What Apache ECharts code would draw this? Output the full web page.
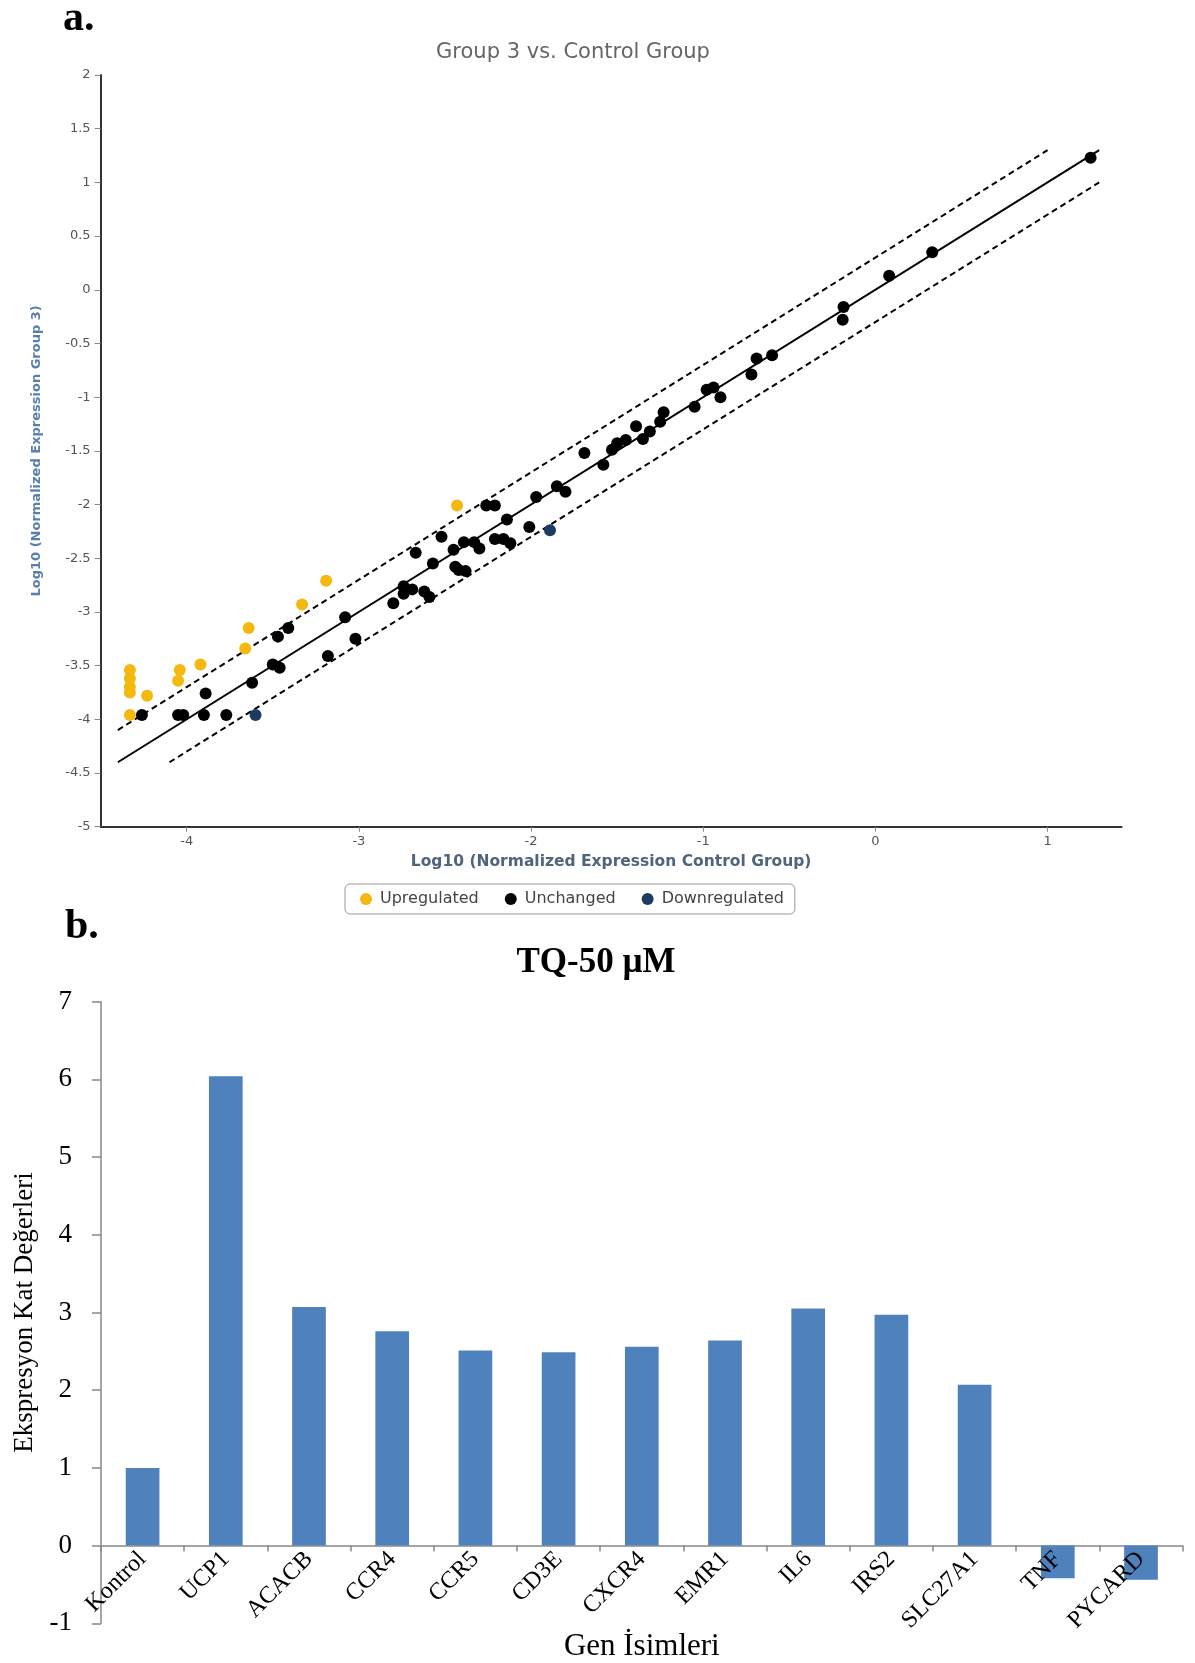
<!DOCTYPE html>
<html>
<head>
<meta charset="utf-8">
<script src="https://cdn.jsdelivr.net/npm/echarts@6/dist/echarts.min.js"></script>
<style>
html,body{margin:0;padding:0;background:#fff;}
#chart{width:1195px;height:1663px;}
</style>
</head>
<body>
<div id="chart"></div>
<script>
// ---------- Panel a: scatter data (log10 control, log10 group 3) ----------
const upregulated = [
  [-4.33,-3.54],[-4.33,-3.62],[-4.33,-3.70],[-4.33,-3.75],[-4.33,-3.96],
  [-4.23,-3.78],[-4.04,-3.54],[-4.05,-3.64],[-3.92,-3.49],[-3.66,-3.34],
  [-3.64,-3.15],[-3.33,-2.93],[-3.19,-2.71],[-2.43,-2.01]
];
const unchanged = [
  [-4.26,-3.96],[-4.05,-3.96],[-4.02,-3.96],[-3.90,-3.96],[-3.77,-3.96],
  [-3.89,-3.76],[-3.62,-3.66],[-3.50,-3.49],[-3.46,-3.52],[-3.47,-3.23],
  [-3.41,-3.15],[-3.18,-3.41],[-3.08,-3.05],[-3.02,-3.25],[-2.80,-2.92],
  [-2.74,-2.76],[-2.69,-2.79],[-2.74,-2.83],[-2.62,-2.81],[-2.59,-2.86],
  [-2.67,-2.45],[-2.57,-2.55],[-2.52,-2.30],[-2.45,-2.42],[-2.39,-2.35],
  [-2.33,-2.35],[-2.30,-2.41],[-2.44,-2.58],[-2.42,-2.61],[-2.38,-2.62],
  [-2.26,-2.01],[-2.21,-2.01],[-2.21,-2.32],[-2.16,-2.32],[-2.12,-2.36],
  [-2.14,-2.14],[-2.01,-2.21],[-1.97,-1.93],[-1.85,-1.83],[-1.80,-1.88],
  [-1.69,-1.52],[-1.58,-1.63],[-1.53,-1.49],[-1.50,-1.43],[-1.45,-1.40],
  [-1.39,-1.27],[-1.35,-1.39],[-1.31,-1.32],[-1.25,-1.23],[-1.23,-1.14],
  [-1.05,-1.09],[-0.98,-0.93],[-0.94,-0.91],[-0.90,-1.00],[-0.72,-0.79],
  [-0.69,-0.64],[-0.60,-0.61],[-0.19,-0.28],[-0.185,-0.16],[0.08,0.13],
  [0.33,0.35],[1.25,1.23]
];
const downregulated = [[-3.60,-3.96],[-1.89,-2.24]];
const diagLine  = [[-4.4,-4.4],[1.3,1.3]];
const upperLine = [[-4.4,-4.1],[1.0,1.3]];
const lowerLine = [[-4.1,-4.4],[1.3,1.0]];
const scatterXTicks = [-4,-3,-2,-1,0,1];

// ---------- Panel b: bar data ----------
const genes = ['Kontrol','UCP1','ACACB','CCR4','CCR5','CD3E','CXCR4','EMR1','IL6','IRS2','SLC27A1','TNF','PYCARD'];
const foldValues = [1.0,6.04,3.07,2.76,2.51,2.49,2.56,2.64,3.05,2.97,2.07,-0.42,-0.44];

const sans = '"DejaVu Sans", sans-serif';
const serif = '"Liberation Serif", "Times New Roman", serif';

// bottom panel geometry: y from -1 to 7 over the grid height; zero line position
const barTop = 1001.7, barHeight = 621.6, barMin = -1, barMax = 7;
const zeroY = barTop + barHeight * (barMax - 0) / (barMax - barMin);

const chart = echarts.init(document.getElementById('chart'), null, {renderer:'canvas'});
chart.setOption({
  animation:false,
  backgroundColor:'#fff',
  title:[
    {text:'Group 3 vs. Control Group', left:568, top:37, textAlign:'center',
     textStyle:{fontFamily:sans, fontSize:21, fontWeight:'normal', color:'#666'}},
    {text:'TQ-50 µM', left:591, top:940, textAlign:'center',
     textStyle:{fontFamily:serif, fontSize:35, fontWeight:'bold', color:'#000'}}
  ],
  graphic:[
    {type:'text', left:63, top:-2, style:{text:'a.', font:'bold 42px '+serif, fill:'#000'}},
    {type:'text', left:65, top:906, style:{text:'b.', font:'bold 42px '+serif, fill:'#000'}}
  ],
  legend:{
    data:['Upregulated','Unchanged','Downregulated'],
    left:345, top:884,
    orient:'horizontal',
    icon:'circle', itemWidth:18, itemHeight:12, itemGap:26,
    padding:[7,11,7,15],
    borderColor:'#999', borderWidth:1, borderRadius:5,
    textStyle:{fontFamily:sans, fontSize:16, color:'#444'}
  },
  grid:[
    {left:100.6, top:75, width:1021, height:751.7, outerBoundsMode:'none'},
    {left:101, top:barTop, width:1081.6, height:barHeight, outerBoundsMode:'none'},
    {left:101, top:barTop, width:1081.6, height:zeroY - barTop, outerBoundsMode:'none'}
  ],
  xAxis:[
    {type:'value', gridIndex:0, min:-4.5, max:1.43,
     name:'Log10 (Normalized Expression Control Group)', nameLocation:'middle', nameGap:27,
     nameMoveOverlap:false,
     nameTextStyle:{fontFamily:sans, fontSize:15.5, fontWeight:'bold', color:'#50647e'},
     axisLine:{show:true, onZero:false, lineStyle:{color:'#333', width:2}},
     axisTick:{show:true, length:5, customValues:scatterXTicks, lineStyle:{color:'#888'}},
     axisLabel:{customValues:scatterXTicks, margin:8, fontFamily:sans, fontSize:13, color:'#555'},
     splitLine:{show:false}},
    {type:'category', gridIndex:1, data:genes,
     axisLine:{show:true, onZero:true, lineStyle:{color:'#888', width:1.5}},
     axisTick:{show:true, length:6, interval:0, lineStyle:{color:'#888', width:1.5}},
     axisLabel:{show:false},
     splitLine:{show:false}},
    {type:'category', gridIndex:2, data:genes, z:10,
     name:'Gen İsimleri', nameLocation:'middle', nameGap:86,
     nameMoveOverlap:false,
     nameTextStyle:{fontFamily:serif, fontSize:31, color:'#000'},
     axisLine:{show:false},
     axisTick:{show:false},
     axisLabel:{interval:0, rotate:45, margin:10, fontFamily:serif, fontSize:24, color:'#000'},
     splitLine:{show:false}}
  ],
  yAxis:[
    {type:'value', gridIndex:0, min:-5, max:2, interval:0.5,
     name:'Log10 (Normalized Expression Group 3)', nameLocation:'middle', nameGap:57.5,
     nameMoveOverlap:false,
     nameTextStyle:{fontFamily:sans, fontSize:13, fontWeight:'bold', color:'#5a7fab'},
     axisLine:{show:true, onZero:false, lineStyle:{color:'#333', width:2}},
     axisTick:{show:true, length:6, lineStyle:{color:'#888'}},
     axisLabel:{margin:10, fontFamily:sans, fontSize:13, color:'#555'},
     splitLine:{show:false}},
    {type:'value', gridIndex:1, min:barMin, max:barMax, interval:1,
     name:'Ekspresyon Kat Değerleri', nameLocation:'middle', nameGap:63,
     nameMoveOverlap:false,
     nameTextStyle:{fontFamily:serif, fontSize:27, color:'#000'},
     axisLine:{show:true, onZero:false, lineStyle:{color:'#888', width:1.5}},
     axisTick:{show:true, length:9, lineStyle:{color:'#888', width:1.5}},
     axisLabel:{margin:29, fontFamily:serif, fontSize:27, color:'#000'},
     splitLine:{show:false}},
    {type:'value', gridIndex:2, min:0, max:1, show:false}
  ],
  series:[
    {type:'line', xAxisIndex:0, yAxisIndex:0, data:diagLine, showSymbol:false, silent:true, z:1,
     lineStyle:{color:'#000', width:2}},
    {type:'line', xAxisIndex:0, yAxisIndex:0, data:upperLine, showSymbol:false, silent:true, z:1,
     lineStyle:{color:'#000', width:2, type:[6,4]}},
    {type:'line', xAxisIndex:0, yAxisIndex:0, data:lowerLine, showSymbol:false, silent:true, z:1,
     lineStyle:{color:'#000', width:2, type:[6,4]}},
    {name:'Upregulated', type:'scatter', xAxisIndex:0, yAxisIndex:0, data:upregulated,
     symbolSize:12, itemStyle:{color:'#f5b80f', opacity:1}, z:3},
    {name:'Unchanged', type:'scatter', xAxisIndex:0, yAxisIndex:0, data:unchanged,
     symbolSize:12, itemStyle:{color:'#000', opacity:1}, z:3},
    {name:'Downregulated', type:'scatter', xAxisIndex:0, yAxisIndex:0, data:downregulated,
     symbolSize:12, itemStyle:{color:'#1f3a63', opacity:1}, z:3},
    {type:'bar', xAxisIndex:1, yAxisIndex:1, data:foldValues, barWidth:'40.5%', z:2,
     itemStyle:{color:'#4f81bd'}}
  ]
});
</script>
</body>
</html>
